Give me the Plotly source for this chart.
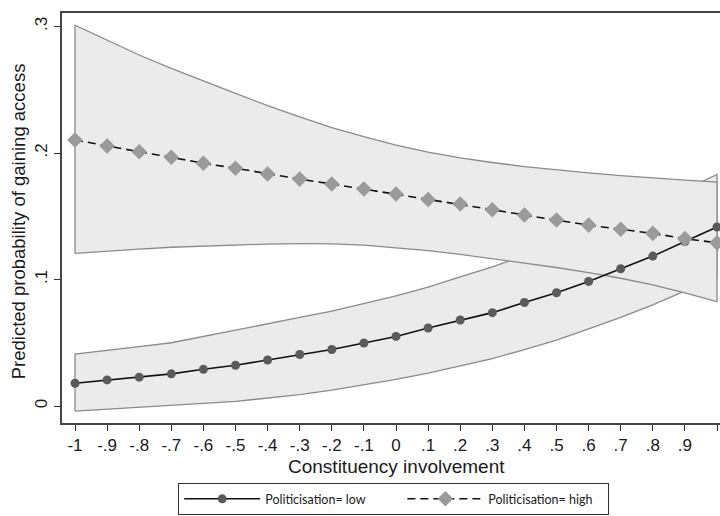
import plotly.graph_objects as go

# Constituency involvement values (x axis)
involvement = [-1.0, -0.9, -0.8, -0.7, -0.6, -0.5, -0.4, -0.3, -0.2, -0.1, 0.0,
               0.1, 0.2, 0.3, 0.4, 0.5, 0.6, 0.7, 0.8, 0.9, 1.0]

# Predicted probability, politicisation = low
low_pred = [0.018, 0.0206, 0.0228, 0.0254, 0.029, 0.0322, 0.0364, 0.0407, 0.0447, 0.0498, 0.055,
            0.0617, 0.068, 0.0738, 0.0818, 0.0895, 0.0985, 0.1085, 0.1185, 0.130, 0.1415]
low_upper = [0.041, 0.044, 0.047, 0.050, 0.055, 0.060, 0.065, 0.070, 0.075, 0.081, 0.087,
             0.094, 0.102, 0.110, 0.119, 0.128, 0.138, 0.148, 0.159, 0.171, 0.183]
low_lower = [-0.004, -0.0026, -0.0012, 0.0003, 0.002, 0.0036, 0.0062, 0.009, 0.0125, 0.0165, 0.021,
             0.026, 0.0315, 0.0375, 0.0445, 0.052, 0.061, 0.070, 0.080, 0.091, 0.102]

# Predicted probability, politicisation = high
high_pred = [0.2103, 0.2055, 0.201, 0.1966, 0.1919, 0.188, 0.1834, 0.1794, 0.1755, 0.1715, 0.1676,
             0.1632, 0.1597, 0.1552, 0.151, 0.147, 0.143, 0.1397, 0.1365, 0.1323, 0.129]
high_upper = [0.301, 0.289, 0.2775, 0.267, 0.257, 0.2472, 0.2375, 0.2285, 0.220, 0.213, 0.2063,
              0.2007, 0.1962, 0.1925, 0.1893, 0.1866, 0.1843, 0.1822, 0.1803, 0.1786, 0.1771]
high_lower = [0.1207, 0.1225, 0.124, 0.1255, 0.1265, 0.1273, 0.128, 0.1283, 0.1282, 0.1272, 0.1252,
              0.1228, 0.1198, 0.1165, 0.1132, 0.1095, 0.1055, 0.101, 0.0957, 0.0895, 0.0825]

x_tickvals = involvement
x_ticktext = ["-1", "-.9", "-.8", "-.7", "-.6", "-.5", "-.4", "-.3", "-.2", "-.1", "0",
              ".1", ".2", ".3", ".4", ".5", ".6", ".7", ".8", ".9", "1"]
y_tickvals = [0, 0.1, 0.2, 0.3]
y_ticktext = ["0", ".1", ".2", ".3"]

x_title = "Constituency involvement"
y_title = "Predicted probability of gaining access"
legend_names = ["Politicisation= low", "Politicisation= high"]

BAND_FILL = "#ebebeb"
BAND_LINE = "#8a8a8a"
TEXT = "#1a1a1a"
AXIS_FONT = "Liberation Sans, Arial, sans-serif"
LEGEND_FONT = "Lato, Open Sans, sans-serif"
NBSP = "\u00a0"


def band(lower, upper):
    xs = involvement + involvement[::-1] + [involvement[0]]
    ys = lower + upper[::-1] + [lower[0]]
    return go.Scatter(x=xs, y=ys, mode="lines", fill="toself", fillcolor=BAND_FILL,
                      line=dict(color=BAND_LINE, width=1.3), showlegend=False,
                      hoverinfo="skip")


fig = go.Figure()
fig.add_trace(band(low_lower, low_upper))
fig.add_trace(band(high_lower, high_upper))
fig.add_trace(go.Scatter(
    x=involvement, y=low_pred, mode="lines+markers", name=legend_names[0] + NBSP * 10,
    line=dict(color="#111111", width=1.6),
    marker=dict(symbol="circle", size=9, color="#5a5a5a"),
))
fig.add_trace(go.Scatter(
    x=involvement, y=high_pred, mode="lines+markers", name=legend_names[1] + NBSP * 3,
    line=dict(color="#111111", width=1.6, dash="8px,5px"),
    marker=dict(symbol="diamond", size=12, color="#9a9a9a"),
))

fig.update_layout(
    width=720, height=516,
    margin=dict(l=62, r=0, t=13, b=93),
    paper_bgcolor="white", plot_bgcolor="white",
    font=dict(family=AXIS_FONT, color=TEXT),
    showlegend=True,
    legend=dict(
        orientation="h", x=0.1763, y=-0.1463, xanchor="left", yanchor="top",
        bordercolor="#333333", borderwidth=1.2, bgcolor="white",
        font=dict(family=LEGEND_FONT, size=12.5, color=TEXT),
        itemwidth=76, traceorder="normal",
    ),
    xaxis=dict(
        range=[-1.0405, 1.0093], tickmode="array", tickvals=x_tickvals, ticktext=x_ticktext,
        ticks="outside", ticklen=6, tickwidth=1.2, tickcolor="#333333",
        showline=True, linecolor="#444444", linewidth=1.8, mirror=True,
        showgrid=False, zeroline=False, tickfont=dict(size=17, color=TEXT),
    ),
    yaxis=dict(
        range=[-0.01344, 0.3107], tickmode="array", tickvals=y_tickvals, ticktext=y_ticktext,
        ticks="outside", ticklen=6, tickwidth=1.2, tickcolor="#333333", tickangle=-90,
        showline=True, linecolor="#444444", linewidth=1.8,
        showgrid=False, zeroline=False, tickfont=dict(size=17, color=TEXT),
    ),
    annotations=[
        dict(text=x_title, xref="x", x=0.0, yref="paper", y=-0.105,
             xanchor="center", yanchor="middle", showarrow=False,
             font=dict(family=AXIS_FONT, size=19, color=TEXT)),
        dict(text=y_title, xref="paper", x=-0.0669, yref="y", y=0.146,
             xanchor="center", yanchor="middle", textangle=-90, showarrow=False,
             font=dict(family=AXIS_FONT, size=18.5, color=TEXT)),
    ],
)

fig.write_html("out.html")
